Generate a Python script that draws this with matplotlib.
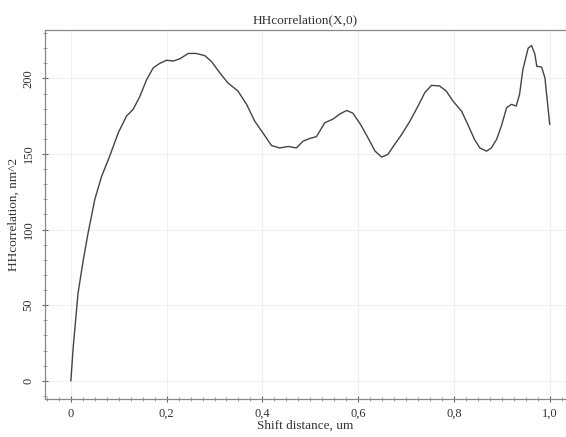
import matplotlib
matplotlib.use("Agg")
import matplotlib.pyplot as plt
from matplotlib.ticker import MultipleLocator, FuncFormatter

plt.rcParams['font.family'] = ['Liberation Serif', 'DejaVu Serif']

# Shift distance (um) and height-height correlation (nm^2)
shift_um = [0.000, 0.005, 0.015, 0.026, 0.036, 0.050, 0.064, 0.081, 0.099, 0.116,
            0.130, 0.144, 0.158, 0.172, 0.186, 0.200, 0.214, 0.228, 0.245, 0.262,
            0.280, 0.294, 0.311, 0.328, 0.349, 0.367, 0.384, 0.401, 0.419, 0.436,
            0.454, 0.471, 0.485, 0.499, 0.513, 0.530, 0.548, 0.562, 0.576, 0.589,
            0.605, 0.620, 0.635, 0.649, 0.662, 0.676, 0.690, 0.708, 0.725, 0.739,
            0.753, 0.770, 0.784, 0.798, 0.816, 0.829, 0.843, 0.854, 0.868, 0.878,
            0.889, 0.899, 0.910, 0.920, 0.930, 0.937, 0.944, 0.955, 0.962, 0.969,
            0.973, 0.983, 0.990, 0.994, 1.000]
hh_corr = [0.0, 22.7, 58.0, 80.0, 97.8, 120.0, 135.0, 148.5, 164.0, 175.0,
           179.5, 188.0, 199.0, 207.0, 210.0, 212.0, 211.5, 213.0, 216.5, 216.5,
           215.0, 211.0, 203.7, 197.0, 191.6, 182.8, 171.7, 164.0, 155.6, 154.0,
           155.0, 154.0, 158.5, 160.3, 161.5, 170.6, 173.2, 176.5, 178.8, 177.0,
           169.5, 161.0, 152.0, 148.0, 149.7, 156.3, 162.5, 171.7, 181.7, 190.5,
           195.4, 195.0, 191.6, 185.0, 178.3, 169.5, 159.6, 154.0, 151.9, 154.0,
           159.6, 168.5, 180.6, 182.8, 181.7, 189.4, 206.0, 220.0, 221.8, 216.0,
           208.0, 207.5, 200.4, 188.0, 169.5]

x_ticks = [0.0, 0.2, 0.4, 0.6, 0.8, 1.0]
y_ticks = [0, 50, 100, 150, 200]

fig = plt.figure(figsize=(5.66, 4.37), dpi=100)
ax = fig.add_axes([45 / 566, 38 / 437, 521 / 566, 369 / 437])

ax.plot(shift_um, hh_corr, color='#444444', linewidth=1.0,
        solid_joinstyle='round', solid_capstyle='round')

ax.set_xlim(-0.054, 1.034)
ax.set_ylim(-12, 232)

ax.set_xticks(x_ticks)
ax.set_yticks(y_ticks)
ax.xaxis.set_major_formatter(FuncFormatter(lambda v, p: '0' if abs(v) < 1e-9 else f'{v:.1f}'.replace('.', ',')))
ax.xaxis.set_minor_locator(MultipleLocator(0.025))
ax.yaxis.set_minor_locator(MultipleLocator(10))

for lbl in ax.get_yticklabels():
    lbl.set_rotation(90)
    lbl.set_va('center')

ax.tick_params(axis='both', which='major', direction='inout', length=5, width=0.8,
               labelsize=9, colors='#666666', labelcolor='#333333')
ax.tick_params(axis='both', which='minor', direction='inout', length=2.5, width=0.5,
               colors='#777777')
ax.tick_params(axis='x', pad=4)
ax.tick_params(axis='y', pad=5)

ax.grid(True, which='major', color='#f0f0f0', linewidth=0.8)
ax.set_axisbelow(True)

for side in ('left', 'bottom', 'top'):
    ax.spines[side].set_color('#888888')
    ax.spines[side].set_linewidth(0.9)
ax.spines['right'].set_visible(False)

ax.set_title('HHcorrelation(X,0)', fontsize=9.5, color='#333333', pad=5)
ax.set_xlabel('Shift distance, um', fontsize=9.5, color='#333333', labelpad=0)
ax.set_ylabel('HHcorrelation, nm^2', fontsize=9.5, color='#333333', labelpad=2)

fig.savefig('out.png', dpi=100)
